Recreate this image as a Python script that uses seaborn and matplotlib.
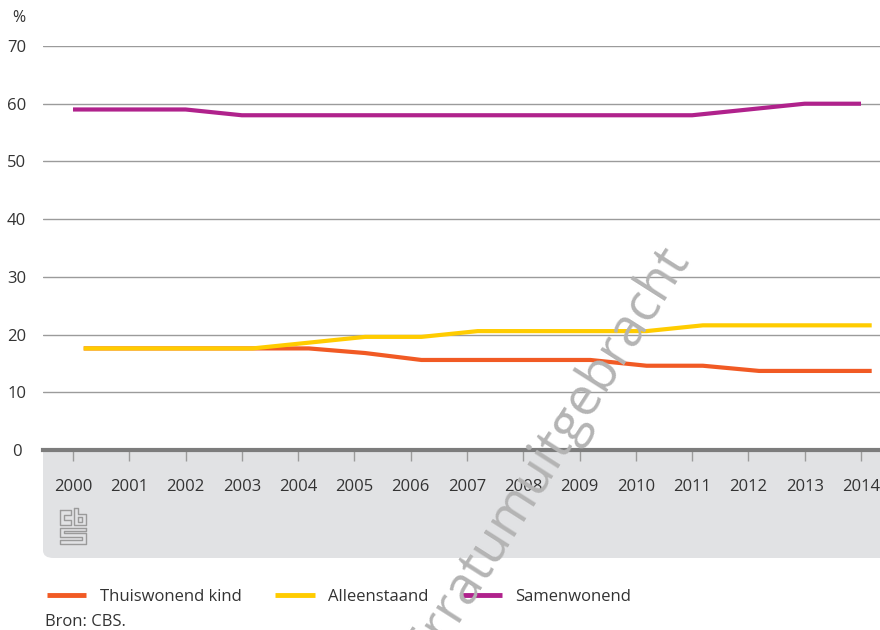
import numpy as np
import pandas as pd
import matplotlib.pyplot as plt
import seaborn as sns
from matplotlib.patches import FancyBboxPatch
from matplotlib.lines import Line2D

# data
jaren = list(range(2000, 2015))
thuiswonend = [17.6, 17.6, 17.6, 17.6, 17.6, 16.8, 15.6, 15.6, 15.6, 15.6, 14.6, 14.6, 13.7, 13.7, 13.7]
alleenstaand = [17.6, 17.6, 17.6, 17.6, 18.6, 19.6, 19.6, 20.6, 20.6, 20.6, 20.6, 21.6, 21.6, 21.6, 21.6]
samenwonend = [59, 59, 59, 58, 58, 58, 58, 58, 58, 58, 58, 58, 59, 60, 60]
reeksen = ['Thuiswonend kind', 'Alleenstaand', 'Samenwonend']
kleuren = ['#f15a24', '#ffcc00', '#b0228c']
y_ticks = [0, 10, 20, 30, 40, 50, 60, 70]

# in de bron staan de eerste twee reeksen iets naar rechts verschoven
verschuiving = {'Thuiswonend kind': 0.19, 'Alleenstaand': 0.19, 'Samenwonend': 0.0}

df = pd.DataFrame({
    'jaar': jaren * 3,
    'waarde': thuiswonend + alleenstaand + samenwonend,
    'reeks': [r for r in reeksen for _ in jaren],
})
df['x'] = df['jaar'] + df['reeks'].map(verschuiving)

sns.set_theme(style='white')
plt.rcParams['font.family'] = ['Open Sans', 'DejaVu Sans']

W, H = 880, 630
fig = plt.figure(figsize=(W / 100, H / 100), dpi=100)
ax = fig.add_axes([43 / W, 1 - 450 / H, (W - 43) / W, (450 - 46) / H])

# grijze band onder de x-as
band = FancyBboxPatch((43 / W, 1 - 558 / H), 1.0, (558 - 420) / H,
                      boxstyle='round,pad=0,rounding_size=0.012', transform=fig.transFigure,
                      facecolor='#e1e2e4', edgecolor='none', zorder=-1)
fig.patches.append(band)

sns.lineplot(data=df, x='x', y='waarde', hue='reeks', hue_order=reeksen,
             palette=kleuren, linewidth=3.0, ax=ax, legend=True)
for ln in ax.get_lines():
    ln.set_solid_capstyle('butt')
    ln.set_solid_joinstyle('miter')

ax.set_xlim(2000 - 30 / 56.29, 2014 + 19 / 56.29)
ax.set_ylim(0, 70)
ax.set_yticks(y_ticks)
ax.set_xticks(jaren)
ax.set_xticklabels([str(j) for j in jaren])
ax.set_xlabel('')
ax.set_ylabel('')
for y in y_ticks[1:]:
    ax.axhline(y, color='#9b9b9b', linewidth=1.0, zorder=0.5)
for s in ['top', 'right', 'left']:
    ax.spines[s].set_visible(False)
ax.spines['bottom'].set_color('#7c7c7c')
ax.spines['bottom'].set_linewidth(3.0)
ax.spines['bottom'].set_zorder(3)
ax.tick_params(axis='x', direction='out', length=8, width=1, color='#9b9b9b',
               pad=13, labelsize=12, labelcolor='#333333', bottom=True)
ax.tick_params(axis='y', length=0, pad=19, labelsize=12, labelcolor='#333333')
for lab in ax.get_yticklabels():
    lab.set_horizontalalignment('center')

fig.text(12 / W, 1 - 18 / H, '%', fontsize=11.5, color='#333333', ha='left', va='center')

# legenda
handles, labels = ax.get_legend_handles_labels()
ax.get_legend().remove()
leg = fig.legend(handles, labels, loc='center left', bbox_to_anchor=(47 / W, 1 - 597 / H),
                 ncol=3, frameon=False, fontsize=12, handlelength=2.35, handletextpad=0.8,
                 columnspacing=2.05, labelcolor='#333333', borderpad=0, borderaxespad=0)
for h in leg.get_lines():
    h.set_linewidth(3.5)
    h.set_solid_capstyle('butt')

fig.text(45 / W, 1 - 622 / H, 'Bron: CBS.', fontsize=12, color='#333333', ha='left', va='center')

# cbs logo (eenvoudig nagetekend)
def px(x, y):
    return x / W, 1 - y / H

logo = '#9a9a9a'
segs = [
    [(60, 510), (60, 525), (71, 525), (71, 520), (64, 520), (64, 515), (71, 515), (71, 510), (60, 510)],
    [(74, 508), (74, 525), (86, 525), (86, 514), (78, 514), (78, 508), (74, 508)],
    [(78, 517), (82, 517), (82, 522), (78, 522), (78, 517)],
    [(86, 528), (60, 528), (60, 537), (82, 537), (82, 540), (60, 540), (60, 544), (86, 544),
     (86, 533), (64, 533), (64, 531), (86, 531), (86, 528)],
]
for s in segs:
    xs, ys = zip(*[px(a, b) for a, b in s])
    fig.add_artist(Line2D(xs, ys, color=logo, linewidth=1.0, transform=fig.transFigure))

# watermerk
fig.text(677 / W, 1 - 249 / H, 'Erratumuitgebracht', fontsize=38, color='#b4b4b4',
         rotation=57.5, rotation_mode='anchor', ha='right', va='center', zorder=10)

fig.savefig('out.png', dpi=100)
